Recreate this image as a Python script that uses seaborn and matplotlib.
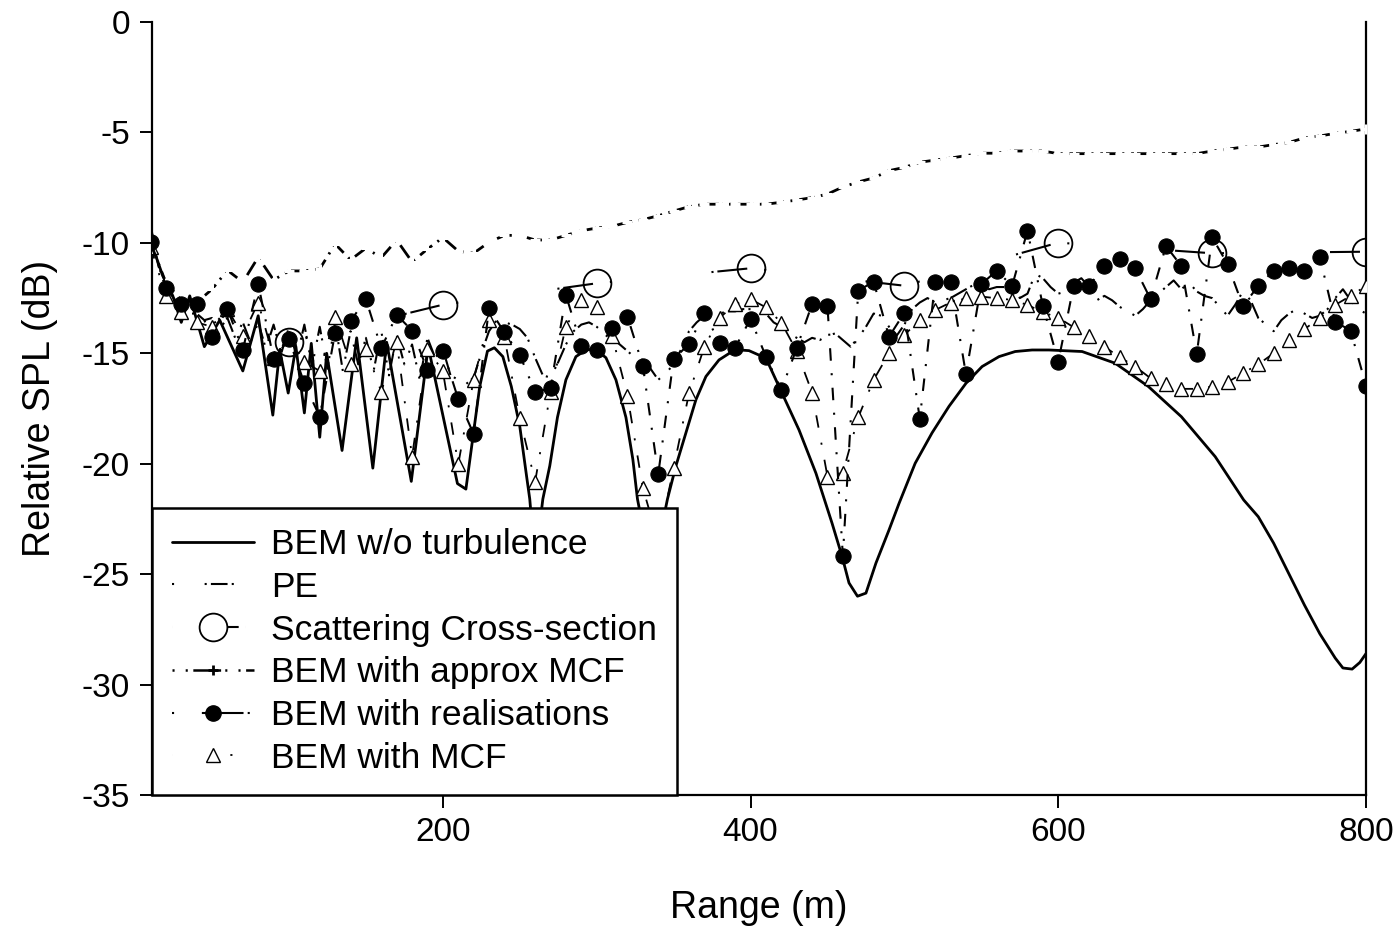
import matplotlib
matplotlib.use("Agg")
import matplotlib.pyplot as plt
from matplotlib.lines import Line2D
from matplotlib.legend_handler import HandlerLine2D
import numpy as np
import pandas as pd
import seaborn as sns

# ---- data ----
# BEM without turbulence (solid curve), traced vertices
bem_x = [10, 13, 18, 24.5, 30, 35.5, 45, 55, 70, 80, 89.5, 94, 99.5, 104.5, 110, 114.5, 120, 124.5,
         134.5, 144, 154.5, 163.5, 179.5, 190.5, 209.5, 215, 224, 229, 233.5, 239, 244.5, 250, 254.5,
         256.5, 260, 265, 269.5, 274.5, 280, 286.5, 293, 299, 306, 312.5, 319, 323.5, 326.5, 336, 346,
         351.5, 358, 364.5, 371, 379.5, 388, 393, 399, 410, 419.5, 431.5, 442.5, 453, 459.5, 464,
         469.5, 475, 481.5, 490, 496.5, 507, 518, 529, 540, 550.5, 561.5, 572, 583, 594, 615.5, 637,
         658.5, 680, 702, 720.5, 730, 740, 750, 760, 770, 780, 785, 791, 796, 800]
bem_y = [-9.2, -10.5, -11.5, -12.4, -13.6, -12.4, -14.7, -13.5, -15.8, -13.3, -17.8, -14.85, -16.8,
         -14.7, -17.7, -14.55, -18.8, -15.0, -19.4, -14.3, -20.2, -14.5, -20.8, -14.7, -20.9, -21.15,
         -16.5, -14.9, -14.75, -15.15, -16.5, -18.3, -20.6, -21.6, -24.5, -21.6, -20.1, -17.9, -16.2,
         -15.15, -14.85, -14.8, -15.2, -16.2, -17.9, -19.8, -21.6, -25.0, -21.6, -20.1, -18.6, -17.1,
         -16.05, -15.3, -14.92, -14.85, -14.88, -15.22, -16.66, -18.47, -20.43, -22.7, -24.2, -25.4,
         -26.0, -25.86, -24.5, -23.0, -21.8, -19.98, -18.6, -17.4, -16.36, -15.6, -15.15, -14.92,
         -14.85, -14.85, -14.92, -15.45, -16.5, -17.87, -19.68, -21.64, -22.4, -23.6, -25.0, -26.4,
         -27.7, -28.8, -29.25, -29.3, -29.0, -28.6]

# PE, every 5 m
pe_x = np.arange(10, 805, 5)
pe_y = [-9.4, -11.0, -12.0, -12.5, -12.9, -13.2, -13.2, -13.5, -13.4, -13.9,
        -13.4, -14.3, -13.6, -14.5, -13.6, -14.8, -13.7, -15.0, -13.8, -15.2,
        -13.7, -15.6, -13.8, -15.7, -13.6, -15.8, -14.0, -15.5, -14.3, -15.8,
        -14.0, -16.0, -14.2, -15.5, -14.6, -16.2, -14.3, -15.2, -14.8, -16.0,
        -16.2, -16.4, -16.1, -15.0, -14.0, -13.5, -13.6, -13.7, -13.9, -14.3,
        -15.2, -16.0, -16.1, -15.4, -14.6, -14.0, -13.7, -13.6, -13.8, -14.1,
        -14.3, -14.6, -14.9, -15.2, -15.3, -15.7, -16.2, -15.9, -15.5, -14.8,
        -14.0, -13.6, -13.3, -13.3, -13.2, -13.1, -13.1, -13.0, -13.0, -13.1,
        -13.2, -13.6, -13.8, -14.1, -14.3, -14.5, -14.3, -14.4, -14.2, -14.1,
        -14.4, -14.7, -14.3, -13.8, -13.2, -13.3, -13.8, -14.2, -13.7, -13.0,
        -12.7, -12.5, -12.7, -12.6, -12.5, -12.3, -12.1, -11.9, -11.8, -12.1,
        -12.0, -12.0, -11.8, -12.5, -12.3, -11.4, -11.6, -12.0, -12.3, -12.2,
        -11.8, -11.6, -12.0, -12.6, -12.4, -12.6, -12.9, -13.1, -13.3, -13.0,
        -12.6, -12.3, -12.0, -11.7, -12.1, -11.8, -12.2, -12.4, -12.5, -12.9,
        -13.3, -12.8, -12.2, -12.6, -13.4, -13.7, -14.0, -13.5, -13.2, -13.0,
        -13.2, -13.4, -13.3, -13.0, -12.5, -12.1, -12.6, -13.0, -13.2]

# Scattering cross-section
scat_x = [100, 200, 300, 400, 500, 600, 700, 800]
scat_y = [-14.5, -12.8, -11.83, -11.15, -11.94, -9.99, -10.47, -10.4]

# series sampled every 10 m
range10 = np.arange(10, 810, 10)
approx_mcf = [-10.0, -11.8, -12.6, -12.7, -12.1, -11.24, -11.78, -10.65, -11.68, -11.27,
              -11.27, -11.18, -10.05, -10.77, -10.24, -10.67, -9.87, -10.86, -10.28, -9.76,
              -10.37, -10.47, -9.97, -9.66, -9.66, -9.87, -9.87, -9.66, -9.45, -9.33,
              -9.25, -9.07, -8.95, -8.77, -8.56, -8.36, -8.25, -8.25, -8.25, -8.25,
              -8.25, -8.16, -8.06, -7.95, -7.79, -7.47, -7.24, -7.06, -6.73, -6.58,
              -6.35, -6.25, -6.16, -6.05, -5.94, -5.94, -5.84, -5.84, -5.84, -5.96,
              -5.96, -5.96, -5.96, -5.96, -5.96, -5.96, -5.96, -5.96, -5.96, -5.84,
              -5.76, -5.66, -5.66, -5.55, -5.45, -5.25, -5.16, -5.04, -4.95, -4.84]
realisations = [-9.97, -12.06, -12.77, -12.77, -14.25, -12.98, -14.85, -11.86, -15.26, -14.36,
                -16.36, -17.87, -14.07, -13.54, -12.55, -14.77, -13.26, -13.97, -15.75, -14.88,
                -17.07, -18.65, -12.96, -14.05, -15.07, -16.76, -16.58, -12.36, -14.65, -14.85,
                -13.87, -13.34, -15.56, -20.48, -15.26, -14.58, -13.16, -14.55, -14.74, -13.44,
                -15.15, -16.66, -14.77, -12.77, -12.86, -24.17, -12.16, -11.76, -14.25, -13.16,
                -17.97, -11.76, -11.76, -15.95, -11.87, -11.26, -11.95, -9.45, -12.86, -15.38,
                -11.95, -11.95, -11.05, -10.74, -11.15, -12.55, -10.14, -11.05, -15.04, -9.75,
                -10.96, -12.86, -11.95, -11.26, -11.15, -11.26, -10.65, -13.57, -13.97, -16.46]
mcf = [-10.17, -12.4, -13.15, -13.6, -13.8, -13.0, -14.2, -12.7, -15.2, -14.3,
       -15.4, -15.8, -13.34, -15.5, -14.8, -16.74, -14.47, -19.68, -14.82, -15.8,
       -20.03, -16.2, -13.49, -14.27, -17.94, -20.81, -16.74, -13.79, -12.58, -12.89,
       -14.2, -16.92, -21.1, -23.5, -20.2, -16.81, -14.7, -13.39, -12.77, -12.55,
       -12.92, -13.61, -14.9, -16.78, -20.58, -20.4, -17.9, -16.2, -15.0, -14.17,
       -13.49, -13.04, -12.7, -12.51, -12.43, -12.51, -12.58, -12.81, -13.14, -13.39,
       -13.82, -14.21, -14.7, -15.18, -15.6, -16.13, -16.39, -16.61, -16.61, -16.51,
       -16.31, -15.9, -15.5, -15.0, -14.4, -13.91, -13.39, -12.81, -12.4, -11.95]

labels = ["BEM w/o turbulence", "PE", "Scattering Cross-section",
          "BEM with approx MCF", "BEM with realisations", "BEM with MCF"]

# ---- styling ----
sns.set_theme(style="white")
plt.rcParams['font.family'] = ['Liberation Sans', 'DejaVu Sans']
plt.rcParams['lines.scale_dashes'] = False
for k in ["text.color", "axes.labelcolor", "xtick.color", "ytick.color"]:
    plt.rcParams[k] = "black"

fig = plt.figure(figsize=(14, 9.26), dpi=100)
ax = fig.add_axes([0.1086, 0.1415, 0.8671, 0.8347])

styles = {
    "pe": (0, [1.5, 9, 1.5, 3, 12, 3]),
    "scat": (21.6, [21.6, 12.2, 1.5, 72, 1.5, 2.8]),
    "approx": (0, [11.1, 4.7, 1.5, 4.9]),
    "real": (0, [9, 9, 1.5, 9]),
    "mcf": (0, [9, 11, 1.5, 11]),
}

def draw(x, y, ls, **kw):
    sns.lineplot(x=x, y=y, ax=ax, color="black", estimator=None, sort=False, **kw)
    ax.lines[-1].set_linestyle(ls)

draw(bem_x, bem_y, "-", lw=2.0, zorder=3)
draw(pe_x, pe_y, styles["pe"], lw=1.5, zorder=2)
draw(range10, mcf, styles["mcf"], lw=1.3, marker="^", ms=10.5, mfc="white", mec="black",
     mew=1.0, zorder=4)
draw(range10, approx_mcf, styles["approx"], lw=2.0, marker="+", ms=7, mew=2.2, zorder=4)
draw(range10, realisations, styles["real"], lw=1.5, marker="o", ms=11, mfc="black",
     mec="black", zorder=5)
draw(scat_x, scat_y, styles["scat"], lw=1.5, marker="o", ms=20, mfc="none", mec="black",
     mew=1.3, zorder=6)

ax.set_xlim(11, 800)
ax.set_ylim(-35, 0)
ax.set_xticks([200, 400, 600, 800])
ax.set_yticks(np.arange(-35, 1, 5))
ax.set_yticklabels([str(v) for v in np.arange(-35, 1, 5)])
ax.set_xlabel("Range (m)", fontsize=27, labelpad=30)
ax.set_ylabel("Relative SPL (dB)", fontsize=27, labelpad=17)
ax.tick_params(axis="both", direction="out", length=9, width=1.4, labelsize=24,
               bottom=True, left=True, color="black", pad=7)
for side in ["left", "bottom", "right"]:
    ax.spines[side].set_color("black")
    ax.spines[side].set_linewidth(1.6)
ax.spines["top"].set_visible(False)
ax.grid(False)


class LeftMarker(HandlerLine2D):
    # marker near the left end of the legend sample, as in the reference
    def get_xdata(self, legend, xdescent, ydescent, width, height, fontsize):
        xdata = np.array([-xdescent, -xdescent + width], float)
        return xdata, np.array([-xdescent + 0.12 * width])


handles = [
    Line2D([], [], color="black", lw=2.0),
    Line2D([], [], color="black", lw=1.5, ls=(0, [1.5, 22, 1.5, 3, 12, 3])),
    Line2D([], [], color="black", lw=1.5, ls=(0, [0.01, 40, 8, 5]), marker="o", ms=20,
           mfc="none", mew=1.3),
    Line2D([], [], color="black", lw=1.8, ls=(0, [1.5, 8, 1.5, 4, 20, 3]), marker="+",
           ms=7, mew=2.0),
    Line2D([], [], color="black", lw=1.5, ls=(0, [1.5, 20, 30, 3]), marker="o", ms=11),
    Line2D([], [], color="black", lw=1.3, ls=(0, [0.01, 42, 1.5, 20]), marker="^", ms=10.5,
           mfc="white", mew=1.0),
]
leg = ax.legend(handles, labels, loc="lower left", bbox_to_anchor=(0, 0),
                borderaxespad=0, fontsize=25.5, frameon=True, fancybox=False,
                edgecolor="black", framealpha=1, handlelength=2.3, handletextpad=0.5,
                labelspacing=0.275, borderpad=0.57, markerscale=1,
                handler_map={Line2D: LeftMarker()})
leg.get_frame().set_linewidth(1.8)
leg.set_zorder(10)

fig.savefig("out.png", dpi=100)
